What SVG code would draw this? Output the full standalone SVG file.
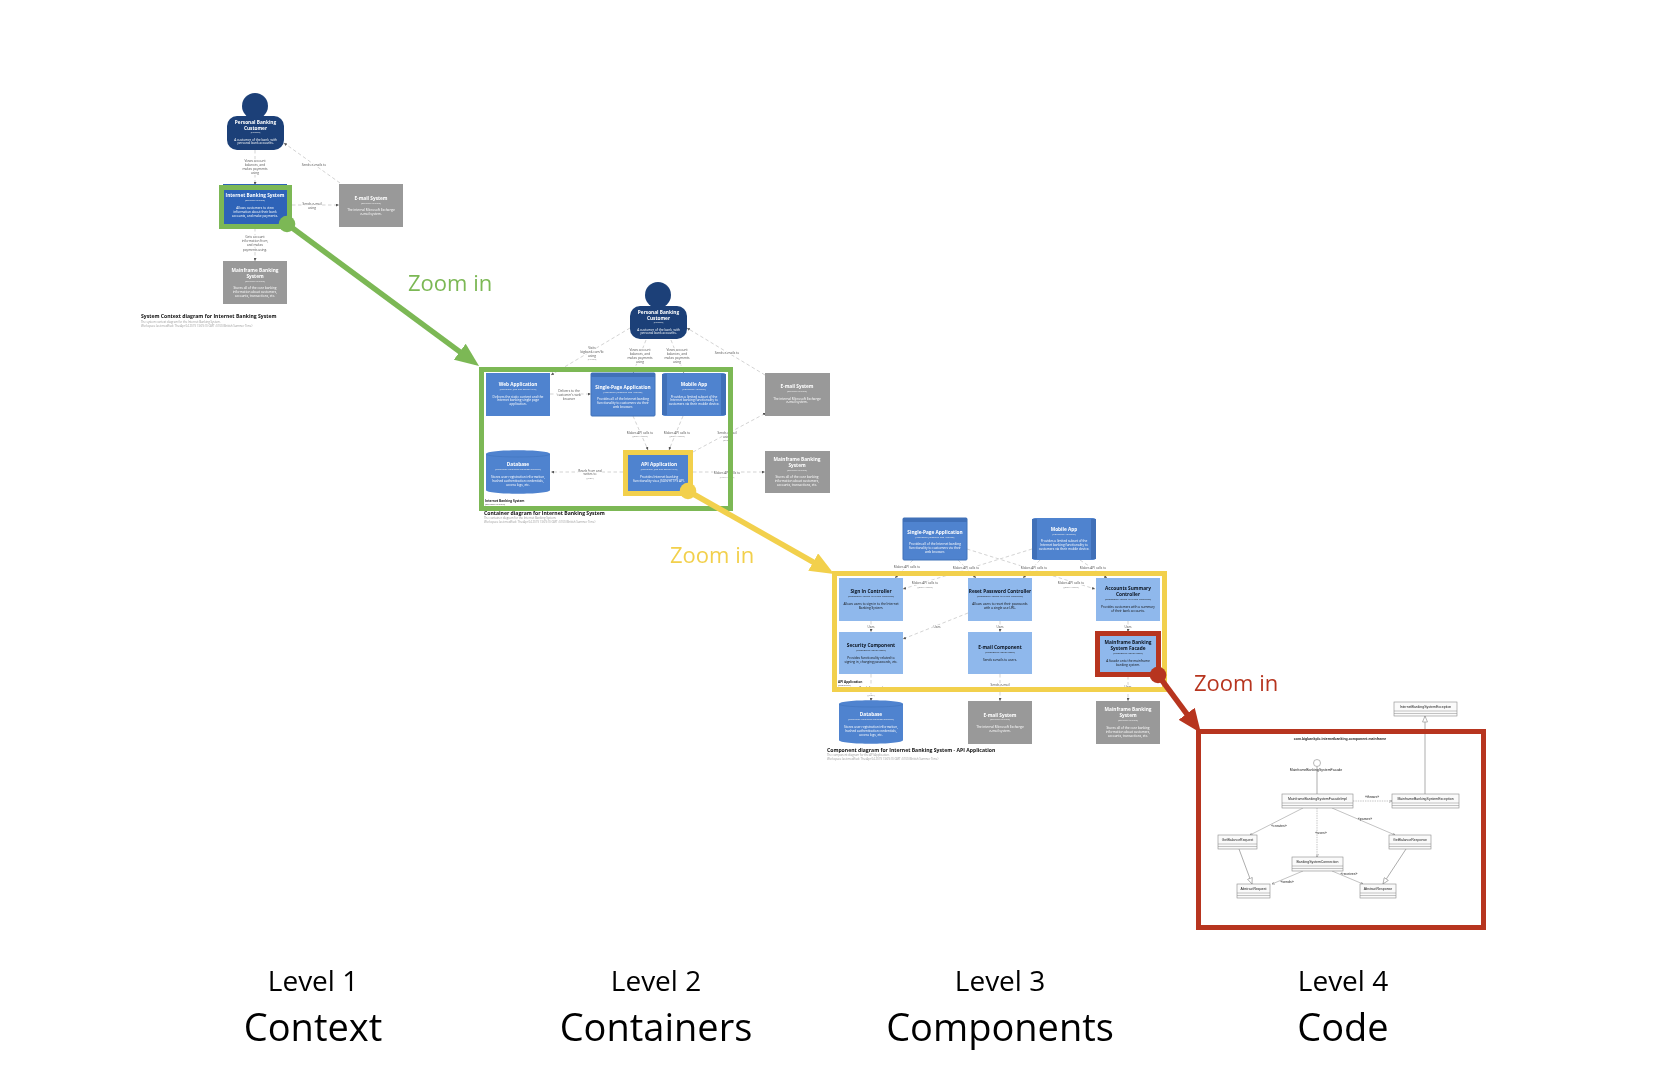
<svg xmlns="http://www.w3.org/2000/svg" width="1656" height="1080" viewBox="0 0 1656 1080">
<style>
text{font-family:"Open Sans","Noto Sans","Liberation Sans",sans-serif}
.m{text-anchor:middle}
.t,.g,.d,.r,.rs,.h,.s,.b1,.b2,.u{transform:translateY(.9px)}
.t{font-size:4.75px;font-weight:700;fill:#fff;text-anchor:middle}
.g{font-size:2.4px;fill:#f0f0f0;text-anchor:middle}
.d{font-size:3.2px;fill:#fff;text-anchor:middle}
.k .t{fill:#0c1420}.k .g{fill:#222}.k .d{fill:#111}
.r{font-size:3.2px;fill:#555;text-anchor:middle;paint-order:stroke;stroke:#fff;stroke-width:1.6px}
.rs{font-size:2.4px;fill:#888;text-anchor:middle;paint-order:stroke;stroke:#fff;stroke-width:1.2px}
.h{font-size:5.1px;font-weight:700;fill:#111}
.s{font-size:2.8px;fill:#999}
.b1{font-size:3.2px;font-weight:700;fill:#222}
.b2{font-size:2.4px;fill:#555}
.e{stroke:#b5b5b5;stroke-width:.6;stroke-dasharray:3.5 2.5;fill:none;marker-end:url(#sm)}
.bd{fill:none;stroke:#aaa;stroke-width:.7;stroke-dasharray:3 2}
.per{fill:#1b4078}.sys{fill:#2d63b8}.con{fill:#4f83cf}.cmp{fill:#8fb8ec}.ext{fill:#999}
.u{font-family:"Liberation Sans",Arial,sans-serif;font-size:3.5px;fill:#222;text-anchor:middle}
.ub{fill:#fafafa;stroke:#8a8a8a;stroke-width:.6}
.ul{stroke:#8a8a8a;stroke-width:.5}
.uc{stroke:#9a9a9a;stroke-width:.6;fill:none;marker-end:url(#um)}
.ud{stroke:#9a9a9a;stroke-width:.6;stroke-dasharray:1.4 1;fill:none;marker-end:url(#um)}
.uh{stroke:#8a8a8a;stroke-width:.7;fill:none;marker-end:url(#uh)}
.zt{font-size:22px}
.lv{font-size:28px;fill:#000;text-anchor:middle}
.nm{font-size:38px;fill:#000;text-anchor:middle}
</style>
<defs>
<filter id="soft" filterUnits="userSpaceOnUse" x="0" y="0" width="1656" height="1080"><feGaussianBlur stdDeviation="0.5"/></filter>
<marker id="sm" markerUnits="userSpaceOnUse" markerWidth="3" markerHeight="3" refX="3" refY="1.5" orient="auto"><path d="M0 0L3 1.5L0 3z" fill="#555"/></marker>
<marker id="um" markerUnits="userSpaceOnUse" markerWidth="3" markerHeight="3" refX="3" refY="1.5" orient="auto"><path d="M0 0L3 1.5L0 3" fill="none" stroke="#777" stroke-width=".5"/></marker>
<marker id="uh" markerUnits="userSpaceOnUse" markerWidth="7" markerHeight="6" refX="6.5" refY="3" orient="auto"><path d="M.5 .5L6.5 3L.5 5.5z" fill="#fff" stroke="#8a8a8a" stroke-width=".6"/></marker>
<marker id="ag" markerUnits="userSpaceOnUse" markerWidth="24" markerHeight="20" refX="12" refY="10" orient="auto"><path d="M0 0L24 10L0 20z" fill="#7cb855"/></marker>
<marker id="ay" markerUnits="userSpaceOnUse" markerWidth="24" markerHeight="20" refX="12" refY="10" orient="auto"><path d="M0 0L24 10L0 20z" fill="#f2d04c"/></marker>
<marker id="ar" markerUnits="userSpaceOnUse" markerWidth="24" markerHeight="20" refX="12" refY="10" orient="auto"><path d="M0 0L24 10L0 20z" fill="#b7351f"/></marker>
</defs>

<g filter="url(#soft)">
<!-- LEVEL 1 -->
<g id="connectors-l1">
<path class="e" d="M255 150V185"/><path class="e" d="M292 205H339"/><path class="e" d="M255 228V261"/><path class="e" d="M340 183L284 143"/>
<text class="r"><tspan x="255" y="161">Views account</tspan><tspan x="255" y="165">balances, and</tspan><tspan x="255" y="169">makes payments</tspan><tspan x="255" y="173">using</tspan></text>
<text class="r"><tspan x="312" y="204">Sends e-mail</tspan><tspan x="312" y="208">using</tspan></text>
<text class="r"><tspan x="255" y="237">Gets account</tspan><tspan x="255" y="241">information from,</tspan><tspan x="255" y="245">and makes</tspan><tspan x="255" y="250">payments using.</tspan></text>
<text class="r" x="314" y="165">Sends e-mails to</text>
</g>
<g id="l1-person"><circle class="per" cx="255" cy="106" r="13"/><rect class="per" x="227" y="116" width="57" height="34" rx="10"/>
<text class="t" x="255.5" y="123">Personal Banking</text><text class="t" x="255.5" y="129">Customer</text><text class="g" x="255.5" y="132.5">[Person]</text><text class="d" x="255.5" y="140">A customer of the bank, with</text><text class="d" x="255.5" y="143.5">personal bank accounts.</text></g>
<g id="l1-ibs"><rect class="sys" x="223" y="184" width="64" height="43"/>
<text class="t" x="255" y="196">Internet Banking System</text><text class="g" x="255" y="200">[Software System]</text><text class="d" x="255" y="208">Allows customers to view</text><text class="d" x="255" y="212">information about their bank</text><text class="d" x="255" y="216">accounts, and make payments.</text></g>
<g id="l1-email"><rect class="ext" x="339" y="184" width="64" height="43"/>
<text class="t" x="371" y="199">E-mail System</text><text class="g" x="371" y="203">[Software System]</text><text class="d" x="371" y="210">The internal Microsoft Exchange</text><text class="d" x="371" y="214">e-mail system.</text></g>
<g id="l1-mainframe"><rect class="ext" x="223" y="261" width="64" height="43"/>
<text class="t" x="255" y="271">Mainframe Banking</text><text class="t" x="255" y="277">System</text><text class="g" x="255" y="281">[Software System]</text><text class="d" x="255" y="288">Stores all of the core banking</text><text class="d" x="255" y="292">information about customers,</text><text class="d" x="255" y="296">accounts, transactions, etc.</text></g>
<g id="l1-title"><text class="h" x="141" y="317">System Context diagram for Internet Banking System</text><text class="s" x="141" y="322">The system context diagram for the Internet Banking System.</text><text class="s" x="141" y="326.5">Workspace last modified: Thu Apr 04 2019 13:09:10 GMT+0100 (British Summer Time)</text></g>

<!-- LEVEL 2 -->
<g id="connectors-l2">
<path class="e" d="M630 328L551 375"/><path class="e" d="M646 340L633 373"/><path class="e" d="M671 340L684 373"/><path class="e" d="M765 375L687 328"/>
<path class="e" d="M550 394H591"/><path class="e" d="M633 416L648 450"/><path class="e" d="M683 416L669 450"/><path class="e" d="M693 452L766 413"/><path class="e" d="M693 472H765"/><path class="e" d="M623 472H551"/>
<text class="r"><tspan x="592" y="348">Visits</tspan><tspan x="592" y="352">bigbank.com/ib</tspan><tspan x="592" y="356">using</tspan></text><text class="rs" x="592" y="359.5">[HTTPS]</text>
<text class="r"><tspan x="640" y="350">Views account</tspan><tspan x="640" y="354">balances, and</tspan><tspan x="640" y="358">makes payments</tspan><tspan x="640" y="362">using</tspan></text>
<text class="r"><tspan x="677" y="350">Views account</tspan><tspan x="677" y="354">balances, and</tspan><tspan x="677" y="358">makes payments</tspan><tspan x="677" y="362">using</tspan></text>
<text class="r" x="727" y="353">Sends e-mails to</text>
<text class="r"><tspan x="569" y="391">Delivers to the</tspan><tspan x="569" y="395">customer's web</tspan><tspan x="569" y="399">browser</tspan></text>
<text class="r" x="640" y="433">Makes API calls to</text><text class="rs" x="640" y="436.5">[JSON/HTTPS]</text>
<text class="r" x="677" y="433">Makes API calls to</text><text class="rs" x="677" y="436.5">[JSON/HTTPS]</text>
<text class="r"><tspan x="727" y="433">Sends e-mail</tspan><tspan x="727" y="437">using</tspan></text><text class="rs" x="727" y="440.5">[SMTP]</text>
<text class="r" x="727" y="473">Makes API calls to</text><text class="rs" x="727" y="477">[XML/HTTPS]</text>
<text class="r"><tspan x="590" y="471">Reads from and</tspan><tspan x="590" y="474.5">writes to</tspan></text><text class="rs" x="590" y="478">[JDBC]</text>
</g>
<g id="l2-person"><circle class="per" cx="658" cy="295" r="13"/><rect class="per" x="630" y="306" width="57" height="33" rx="10"/>
<text class="t" x="658.5" y="313">Personal Banking</text><text class="t" x="658.5" y="319">Customer</text><text class="g" x="658.5" y="322.5">[Person]</text><text class="d" x="658.5" y="330">A customer of the bank, with</text><text class="d" x="658.5" y="333.5">personal bank accounts.</text></g>
<g id="l2-boundary"><rect class="bd" x="483" y="370" width="246" height="137"/><text class="b1" x="485" y="501">Internet Banking System</text><text class="b2" x="485" y="504.5">[Software System]</text></g>
<g id="l2-web"><rect class="con" x="486" y="373" width="64" height="43"/>
<text class="t" x="518" y="385">Web Application</text><text class="g" x="518" y="389">[Container: Java and Spring MVC]</text><text class="d" x="518" y="397">Delivers the static content and the</text><text class="d" x="518" y="400.5">Internet banking single page</text><text class="d" x="518" y="404">application.</text></g>
<g id="l2-spa"><rect class="con" x="591" y="373" width="64" height="43" rx="1" stroke="#3f70b8" stroke-width="1"/><rect x="591" y="373" width="64" height="4" fill="#3f70b8"/>
<text class="t" x="623" y="388">Single-Page Application</text><text class="g" x="623" y="392">[Container: JavaScript and Angular]</text><text class="d" x="623" y="399">Provides all of the Internet banking</text><text class="d" x="623" y="403">functionality to customers via their</text><text class="d" x="623" y="407">web browser.</text></g>
<g id="l2-mobile"><rect class="con" x="662" y="373" width="64" height="43" rx="3"/><rect x="662" y="374" width="5" height="41" fill="#3f70b8"/><rect x="721" y="374" width="5" height="41" fill="#3f70b8"/>
<text class="t" x="694" y="385">Mobile App</text><text class="g" x="694" y="389">[Container: Xamarin]</text><text class="d" x="694" y="397">Provides a limited subset of the</text><text class="d" x="694" y="400.5">Internet banking functionality to</text><text class="d" x="694" y="404">customers via their mobile device.</text></g>
<g id="l2-db"><path class="con" d="M486 454C486 449 550 449 550 454V490C550 495 486 495 486 490Z"/><path d="M486 454C486 458 550 458 550 454" fill="none" stroke="#3f70b8" stroke-width=".5"/>
<text class="t" x="518" y="465">Database</text><text class="g" x="518" y="469">[Container: Relational Database Schema]</text><text class="d" x="518" y="477">Stores user registration information,</text><text class="d" x="518" y="481">hashed authentication credentials,</text><text class="d" x="518" y="485">access logs, etc.</text></g>
<g id="l2-api"><rect class="con" x="627" y="452" width="64" height="42"/>
<text class="t" x="659" y="465">API Application</text><text class="g" x="659" y="469">[Container: Java and Spring MVC]</text><text class="d" x="659" y="477">Provides Internet banking</text><text class="d" x="659" y="481">functionality via a JSON/HTTPS API.</text></g>
<g id="l2-email"><rect class="ext" x="765" y="373" width="65" height="43"/>
<text class="t" x="797" y="387">E-mail System</text><text class="g" x="797" y="391">[Software System]</text><text class="d" x="797" y="399">The internal Microsoft Exchange</text><text class="d" x="797" y="402.5">e-mail system.</text></g>
<g id="l2-mainframe"><rect class="ext" x="765" y="451" width="65" height="42"/>
<text class="t" x="797" y="460">Mainframe Banking</text><text class="t" x="797" y="466">System</text><text class="g" x="797" y="470">[Software System]</text><text class="d" x="797" y="477">Stores all of the core banking</text><text class="d" x="797" y="481">information about customers,</text><text class="d" x="797" y="485.5">accounts, transactions, etc.</text></g>
<g id="l2-title"><text class="h" x="484" y="514">Container diagram for Internet Banking System</text><text class="s" x="484" y="518">The container diagram for the Internet Banking System.</text><text class="s" x="484" y="522">Workspace last modified: Thu Apr 04 2019 13:09:10 GMT+0100 (British Summer Time)</text></g>

<!-- LEVEL 3 -->
<g id="connectors-l3">
<path class="e" d="M913 560L895 578"/><path class="e" d="M958 560L976 578"/><path class="e" d="M967 549L1095 589"/><path class="e" d="M1032 549L903 589"/><path class="e" d="M1040 560L1023 578"/><path class="e" d="M1080 560L1107 578"/>
<path class="e" d="M871 621V632"/><path class="e" d="M1000 621V632"/><path class="e" d="M1128 621V632"/><path class="e" d="M968 613L903 639"/><path class="e" d="M871 674V701"/><path class="e" d="M1000 674V701"/><path class="e" d="M1128 676V701"/>
<text class="r" x="907" y="567">Makes API calls to</text><text class="rs" x="907" y="571">[JSON/HTTPS]</text>
<text class="r" x="966" y="568">Makes API calls to</text><text class="rs" x="966" y="571.5">[JSON/HTTPS]</text>
<text class="r" x="1034" y="568">Makes API calls to</text><text class="rs" x="1034" y="571.5">[JSON/HTTPS]</text>
<text class="r" x="1093" y="568">Makes API calls to</text><text class="rs" x="1093" y="571.5">[JSON/HTTPS]</text>
<text class="r" x="925" y="583">Makes API calls to</text><text class="rs" x="925" y="587">[JSON/HTTPS]</text>
<text class="r" x="1071" y="583">Makes API calls to</text><text class="rs" x="1071" y="587">[JSON/HTTPS]</text>
<text class="r" x="871" y="627">Uses</text><text class="r" x="1000" y="627">Uses</text><text class="r" x="1128" y="627">Uses</text><text class="r" x="937" y="627.5">Uses</text>
<text class="r"><tspan x="871" y="688">Reads from and</tspan><tspan x="871" y="691.5">writes to</tspan></text><text class="rs" x="871" y="695">[JDBC]</text>
<text class="r" x="1000" y="685.5">Sends e-mail</text><text class="r" x="1128" y="687.5">Uses</text>
</g>
<g id="l3-boundary"><rect class="bd" x="836" y="575" width="327" height="113"/><text class="b1" x="838" y="682">API Application</text><text class="b2" x="838" y="685.5">[Container]</text></g>
<g id="l3-spa"><rect class="con" x="903" y="518" width="64" height="42" rx="1" stroke="#3f70b8" stroke-width="1"/><rect x="903" y="518" width="64" height="4" fill="#3f70b8"/>
<text class="t" x="935" y="533">Single-Page Application</text><text class="g" x="935" y="537">[Container: JavaScript and Angular]</text><text class="d" x="935" y="544.5">Provides all of the Internet banking</text><text class="d" x="935" y="548.5">functionality to customers via their</text><text class="d" x="935" y="552.5">web browser.</text></g>
<g id="l3-mobile"><rect class="con" x="1032" y="518" width="64" height="42" rx="3"/><rect x="1032" y="519" width="5" height="40" fill="#3f70b8"/><rect x="1091" y="519" width="5" height="40" fill="#3f70b8"/>
<text class="t" x="1064" y="530">Mobile App</text><text class="g" x="1064" y="534">[Container: Xamarin]</text><text class="d" x="1064" y="541.5">Provides a limited subset of the</text><text class="d" x="1064" y="545">Internet banking functionality to</text><text class="d" x="1064" y="549">customers via their mobile device.</text></g>
<g id="l3-signin" class="k"><rect class="cmp" x="839" y="578" width="64" height="43"/>
<text class="t" x="871" y="592">Sign In Controller</text><text class="g" x="871" y="596">[Component: Spring MVC Rest Controller]</text><text class="d" x="871" y="604">Allows users to sign in to the Internet</text><text class="d" x="871" y="608">Banking System.</text></g>
<g id="l3-reset" class="k"><rect class="cmp" x="968" y="578" width="64" height="43"/>
<text class="t" x="1000" y="592">Reset Password Controller</text><text class="g" x="1000" y="596">[Component: Spring MVC Rest Controller]</text><text class="d" x="1000" y="604">Allows users to reset their passwords</text><text class="d" x="1000" y="608">with a single use URL.</text></g>
<g id="l3-accounts" class="k"><rect class="cmp" x="1096" y="578" width="64" height="43"/>
<text class="t" x="1128" y="589">Accounts Summary</text><text class="t" x="1128" y="595">Controller</text><text class="g" x="1128" y="599">[Component: Spring MVC Rest Controller]</text><text class="d" x="1128" y="607">Provides customers with a summary</text><text class="d" x="1128" y="611">of their bank accounts.</text></g>
<g id="l3-security" class="k"><rect class="cmp" x="839" y="632" width="64" height="42"/>
<text class="t" x="871" y="646">Security Component</text><text class="g" x="871" y="650">[Component: Spring Bean]</text><text class="d" x="871" y="658">Provides functionality related to</text><text class="d" x="871" y="662">signing in, changing passwords, etc.</text></g>
<g id="l3-emailc" class="k"><rect class="cmp" x="968" y="632" width="64" height="42"/>
<text class="t" x="1000" y="648">E-mail Component</text><text class="g" x="1000" y="652">[Component: Spring Bean]</text><text class="d" x="1000" y="660">Sends e-mails to users.</text></g>
<g id="l3-facade" class="k"><rect class="cmp" x="1096" y="632" width="64" height="42"/>
<text class="t" x="1128" y="643">Mainframe Banking</text><text class="t" x="1128" y="649">System Facade</text><text class="g" x="1128" y="653">[Component: Spring Bean]</text><text class="d" x="1128" y="661">A facade onto the mainframe</text><text class="d" x="1128" y="665">banking system.</text></g>
<g id="l3-db"><path class="con" d="M839 704C839 699 903 699 903 704V740C903 745 839 745 839 740Z"/><path d="M839 704C839 708 903 708 903 704" fill="none" stroke="#3f70b8" stroke-width=".5"/>
<text class="t" x="871" y="715">Database</text><text class="g" x="871" y="719">[Container: Relational Database Schema]</text><text class="d" x="871" y="727">Stores user registration information,</text><text class="d" x="871" y="731">hashed authentication credentials,</text><text class="d" x="871" y="735">access logs, etc.</text></g>
<g id="l3-email"><rect class="ext" x="968" y="701" width="64" height="43"/>
<text class="t" x="1000" y="716">E-mail System</text><text class="g" x="1000" y="719.5">[Software System]</text><text class="d" x="1000" y="727">The internal Microsoft Exchange</text><text class="d" x="1000" y="731">e-mail system.</text></g>
<g id="l3-mainframe"><rect class="ext" x="1096" y="701" width="64" height="43"/>
<text class="t" x="1128" y="710">Mainframe Banking</text><text class="t" x="1128" y="716">System</text><text class="g" x="1128" y="720">[Software System]</text><text class="d" x="1128" y="728">Stores all of the core banking</text><text class="d" x="1128" y="732">information about customers,</text><text class="d" x="1128" y="736">accounts, transactions, etc.</text></g>
<g id="l3-title"><text class="h" x="827" y="751">Component diagram for Internet Banking System - API Application</text><text class="s" x="827" y="755">The component diagram for the API Application.</text><text class="s" x="827" y="759">Workspace last modified: Thu Apr 04 2019 13:09:10 GMT+0100 (British Summer Time)</text></g>

<!-- LEVEL 4 -->
<g id="connectors-l4">
<path class="ud" d="M1353 801H1392"/>
<path class="uh" d="M1425 794V716"/>
<path stroke="#8a8a8a" stroke-width=".7" d="M1317 766.5V794"/>
<path class="uc" d="M1303 808L1250 835"/>
<path class="ud" d="M1317 808V857"/>
<path class="uc" d="M1332 808L1395 835"/>
<path class="uh" d="M1239 849L1252 884"/>
<path class="uh" d="M1406 849L1383 884"/>
<path class="uc" d="M1303 871L1272 884"/>
<path class="uc" d="M1332 871L1363 884"/>
<g><text class="u" x="1372" y="797">«throws»</text><text class="u" x="1279" y="826">«creates»</text><text class="u" x="1321" y="833">«uses»</text><text class="u" x="1365" y="819">«parses»</text><text class="u" x="1287" y="882">«sends»</text><text class="u" x="1349" y="874.5">«receives»</text></g>
</g>
<g id="l4-package"><text class="u" x="1340" y="739" font-weight="700">com.bigbankplc.internetbanking.component.mainframe</text></g>
<g id="l4-ibse"><rect class="ub" x="1394" y="702" width="63" height="14"/><path class="ul" d="M1394 711H1457M1394 713.5H1457"/><text class="u" x="1425.5" y="707.5">InternetBankingSystemException</text></g>
<g id="l4-iface"><circle cx="1317" cy="763" r="3.5" fill="#fff" stroke="#8a8a8a" stroke-width=".6"/><text class="u" x="1316" y="770.5">MainframeBankingSystemFacade</text></g>
<g id="l4-impl"><rect class="ub" x="1282" y="794" width="71" height="14"/><path class="ul" d="M1282 803H1353M1282 805.5H1353"/><text class="u" x="1317.5" y="799.5">MainframeBankingSystemFacadeImpl</text></g>
<g id="l4-mbse"><rect class="ub" x="1392" y="794" width="67" height="14"/><path class="ul" d="M1392 803H1459M1392 805.5H1459"/><text class="u" x="1425.5" y="799.5">MainframeBankingSystemException</text></g>
<g id="l4-gbreq"><rect class="ub" x="1218" y="835" width="39" height="14"/><path class="ul" d="M1218 844H1257M1218 846.5H1257"/><text class="u" x="1237.5" y="840.5">GetBalanceRequest</text></g>
<g id="l4-gbres"><rect class="ub" x="1389" y="835" width="42" height="14"/><path class="ul" d="M1389 844H1431M1389 846.5H1431"/><text class="u" x="1410" y="840.5">GetBalanceResponse</text></g>
<g id="l4-conn"><rect class="ub" x="1292" y="857" width="51" height="14"/><path class="ul" d="M1292 866H1343M1292 868.5H1343"/><text class="u" x="1317.5" y="862.5">BankingSystemConnection</text></g>
<g id="l4-areq"><rect class="ub" x="1237" y="884" width="33" height="14"/><path class="ul" d="M1237 893H1270M1237 895.5H1270"/><text class="u" x="1253.5" y="889.5">AbstractRequest</text></g>
<g id="l4-ares"><rect class="ub" x="1360" y="884" width="36" height="14"/><path class="ul" d="M1360 893H1396M1360 895.5H1396"/><text class="u" x="1378" y="889.5">AbstractResponse</text></g>
</g>

<!-- Zoom overlays -->
<g id="zoom-green">
<rect x="221.5" y="187.5" width="68" height="39" fill="none" stroke="#7cb855" stroke-width="5"/>
<rect x="481.5" y="369.5" width="249" height="139" fill="none" stroke="#7cb855" stroke-width="5"/>
<line x1="287" y1="224" x2="469.4" y2="358.9" stroke="#7cb855" stroke-width="5.5" marker-end="url(#ag)"/>
<circle cx="287" cy="224" r="8.3" fill="#7cb855"/>
<text class="zt" x="408" y="291" fill="#7cb855">Zoom in</text>
</g>
<g id="zoom-yellow">
<rect x="625.5" y="452.5" width="65" height="41" fill="none" stroke="#f2d04c" stroke-width="5"/>
<rect x="834.5" y="573.5" width="330" height="116" fill="none" stroke="#f2d04c" stroke-width="5"/>
<line x1="688" y1="491" x2="823.6" y2="568" stroke="#f2d04c" stroke-width="5.5" marker-end="url(#ay)"/>
<circle cx="688" cy="491" r="8.3" fill="#f2d04c"/>
<text class="zt" x="670" y="563" fill="#f2d04c">Zoom in</text>
</g>
<g id="zoom-red">
<rect x="1097.5" y="633.5" width="61" height="41" fill="none" stroke="#b7351f" stroke-width="5"/>
<rect x="1198.5" y="731.5" width="285" height="196" fill="none" stroke="#b7351f" stroke-width="5"/>
<line x1="1158" y1="675" x2="1193.8" y2="723.4" stroke="#b7351f" stroke-width="5.5" marker-end="url(#ar)"/>
<circle cx="1158" cy="675" r="8.3" fill="#b7351f"/>
<text class="zt" x="1194" y="691" fill="#b7351f">Zoom in</text>
</g>

<g id="captions">
<text class="lv" x="313" y="991">Level 1</text><text class="nm" x="313" y="1041">Context</text>
<text class="lv" x="656" y="991">Level 2</text><text class="nm" x="656" y="1041">Containers</text>
<text class="lv" x="1000" y="991">Level 3</text><text class="nm" x="1000" y="1041">Components</text>
<text class="lv" x="1343" y="991">Level 4</text><text class="nm" x="1343" y="1041">Code</text>
</g>
</svg>
